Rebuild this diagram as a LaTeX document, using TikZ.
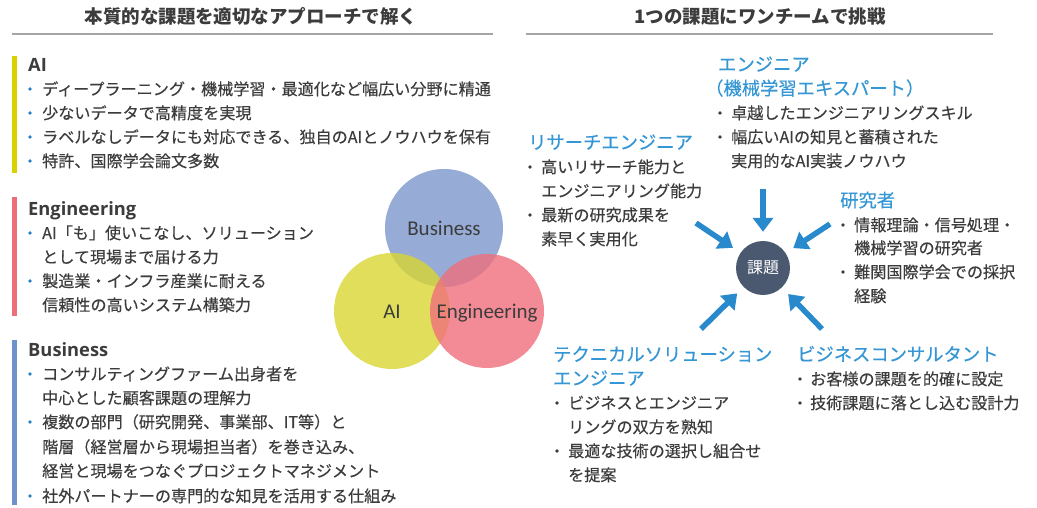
\documentclass[tikz,border=0pt]{standalone}
\usepackage{fontspec}
\setmainfont{Noto Sans CJK JP}
\newfontfamily\jpfont[FakeBold=0.3]{Noto Sans CJK JP}
\newfontfamily\jpplain{Noto Sans CJK JP}
\newfontfamily\osfont{Open Sans}
\newfontfamily\clfont{Carlito}
\usetikzlibrary{arrows.meta}
\definecolor{txt}{RGB}{60,60,60}
\definecolor{hblue}{RGB}{52,150,212}
\definecolor{dotblue}{RGB}{40,130,200}
\definecolor{arrblue}{RGB}{40,138,204}
\definecolor{rulegray}{RGB}{165,165,165}
\definecolor{barY}{RGB}{218,210,0}
\definecolor{barR}{RGB}{236,110,122}
\definecolor{barB}{RGB}{110,146,204}
\definecolor{vB}{RGB}{124,151,204}
\definecolor{vA}{RGB}{217,214,49}
\definecolor{vE}{RGB}{239,111,124}
\definecolor{core}{RGB}{74,88,112}
\newcommand{\bdot}[3]{\fill[#3] (#1,#2) circle (1.9pt);}
\begin{document}
\begin{tikzpicture}[x=1pt,y=-1pt,
 body/.style={anchor=base west,inner sep=0pt,text=txt,font=\jpfont\fontsize{16.1}{20}\selectfont},
 bhead/.style={anchor=base west,inner sep=0pt,text=hblue,font=\jpfont\fontsize{18.3}{22}\selectfont},
 lhead/.style={anchor=base west,inner sep=0pt,text=txt,font=\osfont\bfseries\fontsize{18.3}{22}\selectfont},
 ttl/.style={anchor=base,inner sep=0pt,text=txt,font=\jpplain\bfseries\fontsize{18.5}{22}\selectfont},
 vlabel/.style={anchor=base,inner sep=0pt,text=txt,font=\clfont\fontsize{21}{24}\selectfont},
 arr/.style={draw=arrblue,line width=5.5pt,-{Triangle[length=14pt,width=20pt]},shorten >=9pt},
]
\useasboundingbox[fill=white] (0,0) rectangle (1037,508);

% headers
\node[ttl] (t1) at (251,23.5) {本質的な課題を適切なアプローチで解く};
\node[ttl] (t2) at (760,23.5) {1つの課題にワンチームで挑戦};
\draw[rulegray,line width=2.5pt] (12,34) -- (493,34);
\draw[rulegray,line width=2.5pt] (526,34) -- (993,34);

% left bars
\fill[barY] (12,56) rectangle (17,173);
\fill[barR] (12,197) rectangle (17,316);
\fill[barB] (12,340) rectangle (17,505);

% AI block
\node[lhead] (hA) at (28,71.5) {AI};
\bdot{30}{89}{dotblue}\node[body] (a1) at (42,95) {ディープラーニング・機械学習・最適化など幅広い分野に精通};
\bdot{30}{113}{dotblue}\node[body] (a2) at (42,119) {少ないデータで高精度を実現};
\bdot{30}{137}{dotblue}\node[body] (a3) at (42,143) {ラベルなしデータにも対応できる、独自のAIとノウハウを保有};
\bdot{30}{161}{dotblue}\node[body] (a4) at (42,167) {特許、国際学会論文多数};

% Engineering block
\node[lhead] (hE) at (28,215.5) {Engineering};
\bdot{30}{233}{dotblue}\node[body] (e1) at (42,239) {AI「も」使いこなし、ソリューション};
\node[body] (e2) at (42,263) {として現場まで届ける力};
\bdot{30}{281}{dotblue}\node[body] (e3) at (42,287) {製造業・インフラ産業に耐える};
\node[body] (e4) at (42,311) {信頼性の高いシステム構築力};

% Business block
\node[lhead] (hB) at (28,356.5) {Business};
\bdot{30}{374}{dotblue}\node[body] (b1) at (42,380) {コンサルティングファーム出身者を};
\node[body] (b2) at (42,404) {中心とした顧客課題の理解力};
\bdot{30}{422}{dotblue}\node[body] (b3) at (42,428) {複数の部門（研究開発、事業部、IT等）と};
\node[body] (b4) at (42,453) {階層（経営層から現場担当者）を巻き込み、};
\node[body] (b5) at (42,477) {経営と現場をつなぐプロジェクトマネジメント};
\bdot{30}{496}{dotblue}\node[body] (b6) at (42,502) {社外パートナーの専門的な知見を活用する仕組み};

% Venn
\fill[vB,opacity=.8] (444,228) circle (59pt);
\fill[vA,opacity=.8] (392,311) circle (58pt);
\fill[vE,opacity=.8] (487,311) circle (57pt);
\node[vlabel] (vb) at (444,235) {Business};
\node[vlabel] (va) at (392,318) {AI};
\node[vlabel] (ve) at (487,318) {Engineering};

% centre
\node[circle,fill=core,minimum size=54pt,inner sep=0pt,text=white,font=\jpplain\fontsize{16}{18}\selectfont] (goal) at (763,268) {課題};
\coordinate (s1) at (763,189);
\coordinate (s2) at (696,223);
\coordinate (s3) at (830,224);
\coordinate (s4) at (701,329);
\coordinate (s5) at (822,329);
\draw[arr] (s1) -- (goal);
\draw[arr] (s2) -- (goal);
\draw[arr] (s3) -- (goal);
\draw[arr] (s4) -- (goal);
\draw[arr] (s5) -- (goal);

% Engineer (ML expert)
\node[bhead] (r1h) at (718,71) {エンジニア};
\node[bhead] (r1h2) at (705,95) {（機械学習エキスパート）};
\bdot{720}{113}{txt}\node[body] (r11) at (731,119) {卓越したエンジニアリングスキル};
\bdot{720}{137}{txt}\node[body] (r12) at (731,143) {幅広いAIの知見と蓄積された};
\node[body] (r13) at (731,167) {実用的なAI実装ノウハウ};

% Research engineer
\node[bhead] (r2h) at (528,149) {リサーチエンジニア};
\bdot{530}{167}{txt}\node[body] (r21) at (541,173) {高いリサーチ能力と};
\node[body] (r22) at (541,197) {エンジニアリング能力};
\bdot{530}{215}{txt}\node[body] (r23) at (541,221) {最新の研究成果を};
\node[body] (r24) at (541,245) {素早く実用化};

% Researcher
\node[bhead] (r3h) at (840,207) {研究者};
\bdot{843}{225}{txt}\node[body] (r31) at (854,231) {情報理論・信号処理・};
\node[body] (r32) at (854,254) {機械学習の研究者};
\bdot{843}{272}{txt}\node[body] (r33) at (854,278) {難関国際学会での採択};
\node[body] (r34) at (854,302) {経験};

% Technical solution engineer
\node[bhead] (r4h) at (553,361) {テクニカルソリューション};
\node[bhead] (r4h2) at (553,385) {エンジニア};
\bdot{557}{403}{txt}\node[body] (r41) at (568,409) {ビジネスとエンジニア};
\node[body] (r42) at (568,433) {リングの双方を熟知};
\bdot{557}{451}{txt}\node[body] (r43) at (568,457) {最適な技術の選択し組合せ};
\node[body] (r44) at (568,481) {を提案};

% Business consultant
\node[bhead] (r5h) at (797,361) {ビジネスコンサルタント};
\bdot{800}{379}{txt}\node[body] (r51) at (810,385) {お客様の課題を的確に設定};
\bdot{800}{403}{txt}\node[body] (r52) at (810,409) {技術課題に落とし込む設計力};
\end{tikzpicture}
\end{document}
